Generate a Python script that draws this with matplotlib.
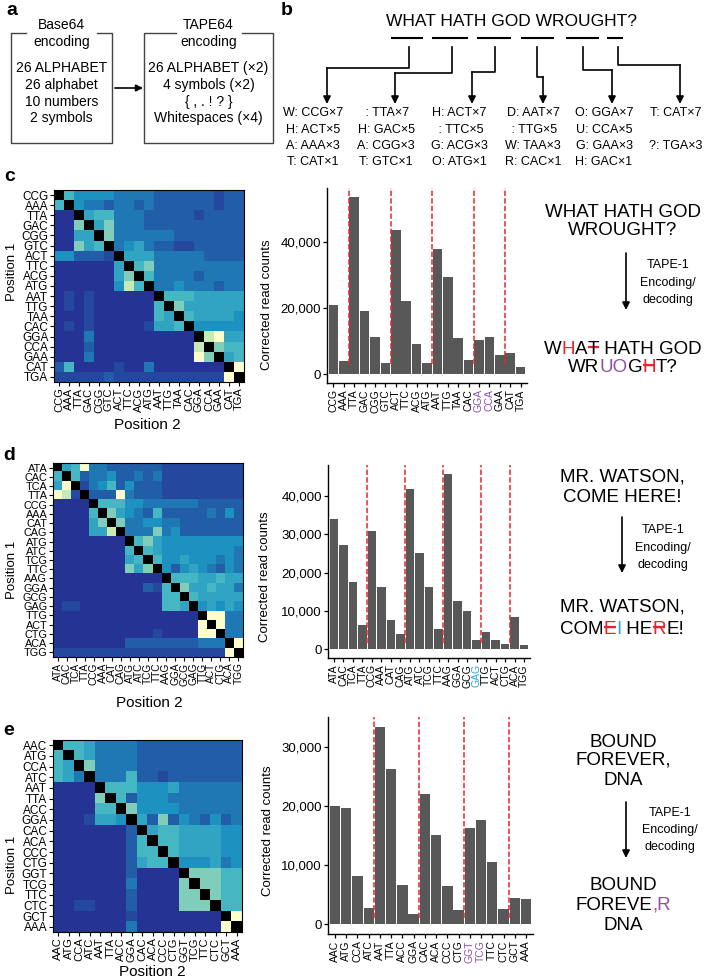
import numpy as np
import matplotlib
matplotlib.use("Agg")
import matplotlib.pyplot as plt
from matplotlib.colors import LinearSegmentedColormap
from matplotlib.font_manager import FontProperties

FONT = "Liberation Sans"
plt.rcParams['font.family'] = [FONT, 'DejaVu Sans']

RED = "#e8242f"
PURPLE = "#8e4fb0"
CYAN = "#27a9df"
BAR = "#585858"

# ---------------- panel a / b text
box1_title = ["Base64", "encoding"]
box1_lines = ["26 ALPHABET", "26 alphabet", "10 numbers", "2 symbols"]
box2_title = ["TAPE64", "encoding"]
box2_lines = ["26 ALPHABET (\u00d72)", "4 symbols (\u00d72)", "{ , . ! ? }", "Whitespaces (\u00d74)"]

b_title = "WHAT HATH GOD WROUGHT?"
b_columns = [
    ["W: CCG\u00d77", "H: ACT\u00d75", "A: AAA\u00d73", "T: CAT\u00d71"],
    [" : TTA\u00d77", "H: GAC\u00d75", "A: CGG\u00d73", "T: GTC\u00d71"],
    ["H: ACT\u00d77", " : TTC\u00d75", "G: ACG\u00d73", "O: ATG\u00d71"],
    ["D: AAT\u00d77", " : TTG\u00d75", "W: TAA\u00d73", "R: CAC\u00d71"],
    ["O: GGA\u00d77", "U: CCA\u00d75", "G: GAA\u00d73", "H: GAC\u00d71"],
    ["T: CAT\u00d77", "", "?: TGA\u00d73", ""],
]

# ---------------- panel c
codons_c = ["CCG", "AAA", "TTA", "GAC", "CGG", "GTC", "ACT", "TTC", "ACG", "ATG",
            "AAT", "TTG", "TAA", "CAC", "GGA", "CCA", "GAA", "CAT", "TGA"]
counts_c = [20900, 4100, 53700, 19000, 11400, 3400, 43600, 22200, 9200, 3400,
            38000, 29400, 10900, 4200, 10400, 11400, 5800, 6500, 2100]
breaks_c = [1.5, 5.5, 9.5, 13.5, 16.5]
highlight_c = ["GGA", "CCA"]
# heat levels 0-9, x = diagonal
heat_c = [
    "x6 4444 3333 2222 221 22",
    "6x 4332 3323 2222 221 22",
    "00 x566 3332 2222 122 22",
    "00 7x57 3332 2222 222 22",
    "00 55x7 3333 3322 222 22",
    "00 756x 3453 2211 222 22",
    "44 2221 x555 3333 322 22",
    "00 0000 5x67 3333 333 33",
    "00 0000 57x6 3333 233 33",
    "00 0000 486x 3343 332 33",
    "01 0100 0000 x666 555 55",
    "01 0100 0000 6x75 555 55",
    "00 0100 0000 65x6 555 54",
    "01 0100 0001 556x 444 44",
    "00 0300 0000 0000 x89 55",
    "00 0200 0000 0000 8x7 66",
    "00 0300 0000 0000 97x 56",
    "26 0000 1003 0000 000 x9",
    "11 1112 1111 1111 111 9x",
]
text_c_in = ["WHAT HATH GOD", "WROUGHT?"]
text_c_out = [
    [("W", "k", False), ("H", RED, False), ("A", "k", False), ("T", "k", True), (" HATH GOD", "k", False)],
    [("WR", "k", False), ("UO", PURPLE, False), ("G", "k", False), ("H", RED, True), ("T?", "k", False)],
]

# ---------------- panel d
codons_d = ["ATA", "CAC", "TCA", "TTA", "CCG", "AAA", "CAT", "CAG", "ATG", "ATC", "TCG",
            "TTC", "AAG", "GGA", "GCG", "GAG", "TTG", "ACT", "CTG", "ACA", "TGG"]
counts_d = [34100, 27100, 17600, 6300, 30800, 16300, 7600, 4100, 41900, 25100, 16300,
            5400, 45800, 12500, 10000, 2400, 4400, 2400, 1300, 8300, 1000]
breaks_d = [3.5, 7.5, 11.5, 15.5, 18.5]
highlight_d = ["GAG"]
heat_d = [
    "x569 3322 2222 1111 111 11",
    "6x62 3342 2323 1111 111 11",
    "59x1 3462 4222 1111 111 11",
    "981x 2229 3222 1111 111 11",
    "0000 x666 4433 3333 222 22",
    "0000 6x75 4326 2222 232 42",
    "0000 57x7 3344 3322 222 22",
    "0000 558x 3337 3422 222 22",
    "0000 0000 x675 4444 444 44",
    "0000 0000 6x65 4444 444 43",
    "0000 0000 56x6 4454 443 43",
    "0000 0000 757x 4245 432 43",
    "0000 0000 0000 x666 556 55",
    "0000 0000 0021 6x75 565 53",
    "0000 0000 0000 66x6 555 55",
    "0110 0000 0000 665x 454 54",
    "0000 0000 0000 0000 x99 33",
    "0000 0000 0000 0000 9x9 33",
    "0000 0000 0001 0000 99x 33",
    "0000 0000 2222 2222 333 x9",
    "1111 1111 1111 1111 111 9x",
]
text_d_in = ["MR. WATSON,", "COME HERE!"]
text_d_out = [
    [("MR. WATSON,", "k", False)],
    [("COM", "k", False), ("E", RED, True), ("I", CYAN, False), (" HE", "k", False),
     ("R", RED, True), ("E!", "k", False)],
]

# ---------------- panel e
codons_e = ["AAC", "ATG", "CCA", "ATC", "AAT", "TTA", "ACC", "GGA", "CAC", "ACA",
            "CCC", "CTG", "GGT", "TCG", "TTC", "CTC", "GCT", "AAA"]
counts_e = [20000, 19700, 8100, 2700, 33500, 26400, 6600, 1750, 22100, 15200,
            6400, 2400, 16400, 17700, 10600, 2600, 4500, 4300]
breaks_e = [3.5, 7.5, 11.5, 15.5]
highlight_e = ["GGT", "TCG"]
heat_e = [
    "x665 3333 2222 2222 22",
    "6x65 3333 2222 2222 22",
    "65x7 3333 2222 2222 22",
    "653x 3336 2212 2222 22",
    "0000 x666 4445 3333 33",
    "0000 7x62 4443 3333 33",
    "0000 66x7 4444 3333 33",
    "0001 554x 5272 4324 23",
    "0000 0002 x566 5555 44",
    "0000 0002 6x66 5555 44",
    "0000 0002 66x6 5555 44",
    "0000 0002 566x 4445 34",
    "0000 0002 0000 x777 66",
    "0000 0003 0000 7x77 66",
    "0000 0002 0000 77x7 66",
    "0011 0002 0000 777x 66",
    "0000 0001 0000 0000 x9",
    "0000 0003 0000 0000 9x",
]
text_e_in = ["BOUND", "FOREVER,", "DNA"]
text_e_out = [
    [("BOUND", "k", False)],
    [("FOREVE", "k", False), (",R", PURPLE, False)],
    [("DNA", "k", False)],
]
tape_label = ["TAPE-1", "Encoding/", "decoding"]

# ---------------- figure
W, H = 706, 980
fig = plt.figure(figsize=(W / 100, H / 100), dpi=100)


def px_axes(l, t, r, b):
    return fig.add_axes([l / W, 1 - b / H, (r - l) / W, (b - t) / H])


ov = px_axes(0, 0, W, H)
ov.set_xlim(0, W)
ov.set_ylim(H, 0)
ov.axis('off')

renderer = fig.canvas.get_renderer()

cmap = LinearSegmentedColormap.from_list("tape", [
    (0.0, "#253494"), (0.22, "#225ea8"), (0.44, "#1d91c0"), (0.66, "#41b6c4"),
    (0.78, "#7fcdbb"), (0.89, "#c7e9b4"), (1.0, "#fdfdcc")])
cmap.set_bad("black")


def parse(rows):
    m = []
    for r in rows:
        r = r.replace(" ", "")
        m.append([np.nan if ch == "x" else int(ch) / 9 for ch in r])
    return np.array(m)


def draw_heat(box, labels, rows, ysize=8.5, xsize=8):
    ax = px_axes(*box)
    ax.imshow(parse(rows), cmap=cmap, vmin=0, vmax=1, aspect='auto', interpolation='nearest')
    n = len(labels)
    ax.set_xticks(range(n))
    ax.set_xticklabels(labels, rotation=90, fontsize=xsize)
    ax.set_yticks(range(n))
    ax.set_yticklabels(labels, fontsize=ysize)
    ax.tick_params(length=3, width=0.8, pad=1)
    for s in ax.spines.values():
        s.set_linewidth(0.8)
    return ax


def draw_bars(box, labels, counts, breaks, highlight, hcol, yticks, line_lo):
    ax = px_axes(*box)
    x = np.arange(len(labels))
    top = max(counts)
    ax.bar(x, counts, width=0.92, color=BAR)
    ax.set_xlim(-0.62, len(labels) - 0.38)
    ax.set_ylim(-0.05 * top, 1.05 * top)
    ax.vlines(breaks, line_lo, 1.05 * top, colors=RED, linestyles=(0, (3.5, 1.5)), lw=1.1)
    ax.set_xticks(x)
    ax.set_xticklabels(labels, rotation=90, fontsize=7.5)
    for t in ax.get_xticklabels():
        if t.get_text() in highlight:
            t.set_color(hcol)
    ax.set_yticks(yticks)
    ax.set_yticklabels([f"{v:,}" for v in yticks], fontsize=9.5)
    ax.spines[['top', 'right']].set_visible(False)
    ax.spines[['left', 'bottom']].set_linewidth(1)
    ax.tick_params(length=3, width=0.9, pad=1.5)
    return ax


def adv(s, size):
    fp = FontProperties(family=FONT, size=size)
    w1 = renderer.get_text_width_height_descent("|" + s + "|", fp, ismath=False)[0]
    w0 = renderer.get_text_width_height_descent("||", fp, ismath=False)[0]
    return w1 - w0


def rich(xc, yc, segs, size=13.5):
    advs = [adv(s, size) for s, c, st in segs]
    x = xc - sum(advs) / 2
    base = yc + 0.36 * size * 100 / 72
    for (s, c, st), a in zip(segs, advs):
        ov.text(x, base, s, color=c, fontsize=size, ha='left', va='baseline')
        if st:
            ov.plot([x + 0.05 * a, x + 0.95 * a], [yc, yc], color=RED, lw=1.6,
                    solid_capstyle='butt')
        x += a


def down_arrow(x, y0, y1):
    ov.annotate("", xy=(x, y1), xytext=(x, y0),
                arrowprops=dict(arrowstyle="-|>", color="k", lw=1.2,
                                mutation_scale=11, shrinkA=0, shrinkB=0))


def letter(x, y, s):
    ov.text(x, y, s, fontsize=14, fontweight='heavy', ha='left', va='baseline')


# ---------------- panel a
letter(6, 15, "a")
for (l, r, g0, g1), title, lines in [((11, 112, 26, 97), box1_title, box1_lines),
                                     ((144, 273, 176, 242), box2_title, box2_lines)]:
    t, b = 33, 143
    ov.plot([g0, l, l, r, r, g1], [t, t, b, b, t, t], color="#444444", lw=1)
    cx = (l + r) / 2
    for y, s in zip([25, 42], title):
        ov.text(cx, y, s, fontsize=10, ha='center', va='center')
    for y, s in zip([68, 85, 102, 118], lines):
        ov.text(cx, y, s, fontsize=10, ha='center', va='center')
ov.annotate("", xy=(143, 88), xytext=(115, 88),
            arrowprops=dict(arrowstyle="-|>", color="k", lw=1.2, mutation_scale=10,
                            shrinkA=0, shrinkB=0))

# ---------------- panel b
letter(281, 15, "b")
ov.text(511, 22, b_title, fontsize=12.5, ha='center', va='center')
for x0, x1 in [(392, 422), (433, 467), (478, 510), (522, 553), (567, 598), (608, 622)]:
    ov.plot([x0, x1], [38, 38], color="k", lw=1.5)
paths = [(409, 68, 327), (452, 73, 395), (495, 72, 472), (537, 77, 543), (583, 70, 612), (618, 65, 680)]
for vx, hy, ax_ in paths:
    ov.plot([vx, vx, ax_], [47, hy, hy], color="k", lw=1.2)
    down_arrow(ax_, hy, 104)
for cx, col in zip([313, 386, 459, 533, 604, 676], b_columns):
    for y, s in zip([113, 130, 146, 162], col):
        if s:
            ov.text(cx, y, s, fontsize=9, ha='center', va='center')

# ---------------- panel c
letter(4, 181, "c")
draw_heat((54, 190, 244, 382), codons_c, heat_c)
ov.text(12, 272, "Position 1", fontsize=9.5, rotation=90, ha='center', va='center')
ov.text(147, 425, "Position 2", fontsize=11, ha='center', va='center')
draw_bars((327, 188, 527, 383), codons_c, counts_c, breaks_c, highlight_c, PURPLE,
          [0, 20000, 40000], 3000)
ov.text(267, 305, "Corrected read counts", fontsize=9.5, rotation=90, ha='center', va='center')
for y, s in zip([210, 228], text_c_in):
    rich(623, y, [(s, "k", False)])
down_arrow(626, 253, 310)
for y, s in zip([265, 283, 300], tape_label):
    ov.text(668, y, s, fontsize=9, ha='center', va='center')
for y, segs in zip([347, 365], text_c_out):
    rich(623, y, segs)

# ---------------- panel d
letter(3, 460, "d")
draw_heat((53, 463, 243, 657), codons_d, heat_d, ysize=7.8, xsize=7.3)
ov.text(12, 570, "Position 1", fontsize=9.5, rotation=90, ha='center', va='center')
ov.text(149, 703, "Position 2", fontsize=11, ha='center', va='center')
draw_bars((328, 465, 530, 658), codons_d, counts_d, breaks_d, highlight_d, CYAN,
          [0, 10000, 20000, 30000, 40000], 1500)
ov.text(265, 577, "Corrected read counts", fontsize=9.5, rotation=90, ha='center', va='center')
for y, s in zip([475, 495], text_d_in):
    rich(622, y, [(s, "k", False)])
down_arrow(622, 517, 573)
for y, s in zip([530, 548, 565], tape_label):
    ov.text(663, y, s, fontsize=9, ha='center', va='center')
for y, segs in zip([605, 627], text_d_out):
    rich(622, y, segs)

# ---------------- panel e
letter(3, 735, "e")
draw_heat((53, 740, 242, 932), codons_e, heat_e)
ov.text(12, 865, "Position 1", fontsize=9.5, rotation=90, ha='center', va='center')
ov.text(152, 972, "Position 2", fontsize=11, ha='center', va='center')
draw_bars((328, 717, 533, 934), codons_e, counts_e, breaks_e, highlight_e, PURPLE,
          [0, 10000, 20000, 30000], 1000)
ov.text(268, 831, "Corrected read counts", fontsize=9.5, rotation=90, ha='center', va='center')
for y, s in zip([740, 758, 778], text_e_in):
    rich(623, y, [(s, "k", False)])
down_arrow(626, 802, 858)
for y, s in zip([813, 830, 847], tape_label):
    ov.text(670, y, s, fontsize=9, ha='center', va='center')
for y, segs in zip([883, 903, 923], text_e_out):
    rich(623, y, segs)

fig.savefig("out.png", dpi=100)
